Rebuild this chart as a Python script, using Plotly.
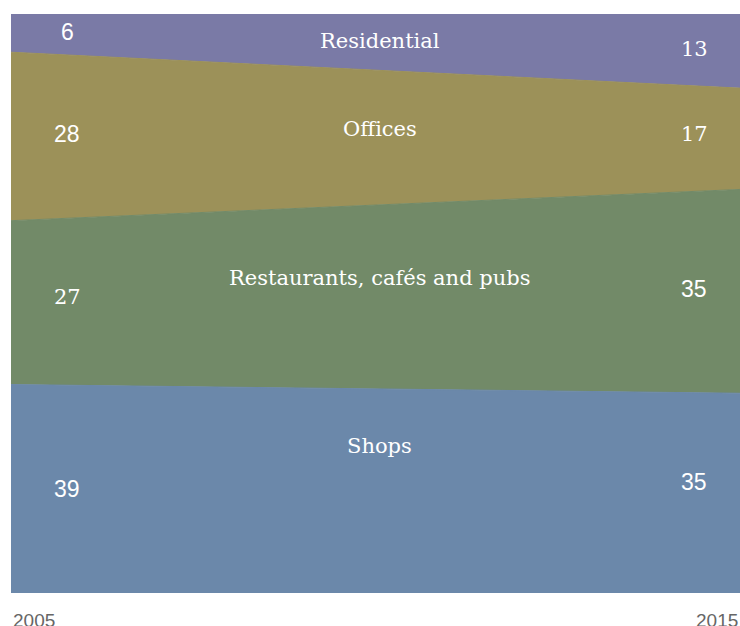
import plotly.graph_objects as go

years = [2005, 2015]
categories = ["Shops", "Restaurants, cafés and pubs", "Offices", "Residential"]
# area shares as drawn (percent of total)
shops = [36.0, 34.5]
restaurants = [28.3, 35.2]
offices = [29.1, 17.5]
residential = [6.6, 12.8]
# value labels as printed
label_2005 = ["39", "27", "28", "6"]
label_2015 = ["35", "35", "17", "13"]
year_labels = ["2005", "2015"]

colors = ["#6b88aa", "#728a68", "#9c9159", "#7a7aa6"]
series = [shops, restaurants, offices, residential]

fig = go.Figure()
for name, vals, col in zip(categories, series, colors):
    fig.add_trace(go.Scatter(
        x=years, y=vals, name=name, mode="lines", stackgroup="one",
        line=dict(width=1, color=col), fillcolor=col, hoverinfo="skip"))

SANS = "Liberation Sans, Arial, sans-serif"
SERIF = "DejaVu Serif, serif"
annotations = []
# font choice per number label (as in the reference, some are slab serif)
fonts_2005 = [SANS, SERIF, SANS, SANS]
fonts_2015 = [SANS, SANS, SERIF, SERIF]
shifts_2005 = [0, 6, 2, 1]
shifts_2015 = [11, 2, 5, 2]
for idx, labels, fonts, shifts in ((0, label_2005, fonts_2005, shifts_2005),
                                   (1, label_2015, fonts_2015, shifts_2015)):
    base = 0
    xpos = 2005.77 if idx == 0 else 2014.37
    for vals, lab, fam, sh in zip(series, labels, fonts, shifts):
        mid = base + vals[idx] / 2
        base += vals[idx]
        size = 23 if fam == SANS else 21
        annotations.append(dict(x=xpos, y=mid, text=lab, showarrow=False,
                                xanchor="center", yanchor="middle", yshift=sh,
                                font=dict(family=fam, size=size, color="white"),
                                xref="x", yref="y"))

# category names
name_y = [0.254, 0.544, 0.801, 0.953]
for name, ny in zip(categories, name_y):
    annotations.append(dict(x=0.506, y=ny, xref="paper", yref="paper", text=name,
                            showarrow=False, xanchor="center", yanchor="middle",
                            font=dict(family=SERIF, size=21, color="white")))

# year labels
for lab, xp, anc in zip(year_labels, [0, 1], ["left", "right"]):
    annotations.append(dict(x=xp, y=-0.047, xref="paper", yref="paper", text=lab,
                            showarrow=False, xanchor=anc, yanchor="middle",
                            font=dict(family=SANS, size=19, color="#666666")))

fig.update_layout(
    width=740, height=626,
    margin=dict(l=11, r=0, t=14, b=33),
    paper_bgcolor="white", plot_bgcolor="white",
    showlegend=False,
    xaxis=dict(range=[2005, 2015], showgrid=False, zeroline=False, showticklabels=False, fixedrange=True),
    yaxis=dict(range=[0, 100], showgrid=False, zeroline=False, showticklabels=False, fixedrange=True),
    annotations=annotations,
)

fig.write_html("out.html", config={"displayModeBar": False},
               post_script="document.body.style.margin='0';document.documentElement.style.overflow='hidden';")
